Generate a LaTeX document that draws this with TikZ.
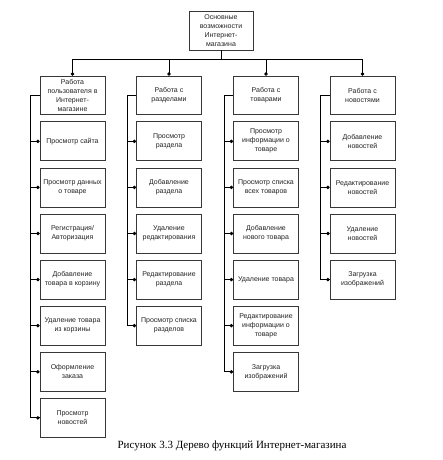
\documentclass[tikz,border=0pt]{standalone}
\usepackage{fontspec}
\setmainfont{Liberation Serif}
\newfontfamily\boxfont{Liberation Sans}
\usepackage{tikz}
\usetikzlibrary{arrows.meta, positioning}
\definecolor{boxline}{RGB}{55, 55, 55}
\definecolor{boxtext}{RGB}{35, 35, 35}

\begin{document}
\begin{tikzpicture}[
    x=1pt, y=-1pt,
    node distance=6.3pt,
    rootBox/.style={draw=boxline, line width=0.8pt, minimum width=64pt, minimum height=39pt, inner sep=1pt, align=center, text=boxtext, font=\boxfont\fontsize{7}{9}\selectfont},
    headBox/.style={rootBox, minimum width=65pt, minimum height=38pt},
    funcBox/.style={rootBox, minimum width=65pt, minimum height=39pt},
    link/.style={draw=black, line width=0.9pt},
    dotLink/.style={link, -{Circle[length=3.4pt]}}
]
\useasboundingbox (0,0) rectangle (442,460);

% Root
\node[rootBox] (root) at (221,30.5) {Основные\\возможности\\Интернет-\\магазина};
\coordinate (bus) at (221,59);

% Column heads
\node[headBox] (userHead) at (72.5,95) {Работа\\пользователя в\\Интернет-\\магазине};
\node[headBox] (secHead) at (169,95) {Работа с\\разделами};
\node[headBox] (goodHead) at (266,95) {Работа с\\товарами};
\node[headBox] (newsHead) at (362.5,95) {Работа с\\новостями};

\draw[link] (root) -- (bus);
\draw[dotLink] (bus) -| (userHead.north);
\draw[dotLink] (bus) -| (secHead.north);
\draw[dotLink] (bus) -| (goodHead.north);
\draw[dotLink] (bus) -| (newsHead.north);

% User functions
\node[funcBox, below=7pt of userHead] (user1) {Просмотр сайта};
\node[funcBox, below=of user1] (user2) {Просмотр данных\\о товаре};
\node[funcBox, below=of user2] (user3) {Регистрация/\\Авторизация};
\node[funcBox, below=of user3] (user4) {Добавление\\товара в корзину};
\node[funcBox, below=of user4] (user5) {Удаление товара\\из корзины};
\node[funcBox, below=of user5] (user6) {Оформление\\заказа};
\node[funcBox, below=of user6] (user7) {Просмотр\\новостей};

\draw[link] (userHead.west) -- ++(-9,0) |- (user7.west);
\draw[dotLink] ([xshift=-9pt]user1.west) -- (user1.west);
\draw[dotLink] ([xshift=-9pt]user2.west) -- (user2.west);
\draw[dotLink] ([xshift=-9pt]user3.west) -- (user3.west);
\draw[dotLink] ([xshift=-9pt]user4.west) -- (user4.west);
\draw[dotLink] ([xshift=-9pt]user5.west) -- (user5.west);
\draw[dotLink] ([xshift=-9pt]user6.west) -- (user6.west);
\draw[dotLink] ([xshift=-9pt]user7.west) -- (user7.west);

% Section functions
\node[funcBox, below=7pt of secHead] (sec1) {Просмотр\\раздела};
\node[funcBox, below=of sec1] (sec2) {Добавление\\раздела};
\node[funcBox, below=of sec2] (sec3) {Удаление\\редактирования};
\node[funcBox, below=of sec3] (sec4) {Редактирование\\раздела};
\node[funcBox, below=of sec4] (sec5) {Просмотр списка\\разделов};

\draw[link] (secHead.west) -- ++(-9,0) |- (sec5.west);
\draw[dotLink] ([xshift=-9pt]sec1.west) -- (sec1.west);
\draw[dotLink] ([xshift=-9pt]sec2.west) -- (sec2.west);
\draw[dotLink] ([xshift=-9pt]sec3.west) -- (sec3.west);
\draw[dotLink] ([xshift=-9pt]sec4.west) -- (sec4.west);
\draw[dotLink] ([xshift=-9pt]sec5.west) -- (sec5.west);

% Goods functions
\node[funcBox, below=7pt of goodHead] (good1) {Просмотр\\информации о\\товаре};
\node[funcBox, below=of good1] (good2) {Просмотр списка\\всех товаров};
\node[funcBox, below=of good2] (good3) {Добавление\\нового товара};
\node[funcBox, below=of good3] (good4) {Удаление товара};
\node[funcBox, below=of good4] (good5) {Редактирование\\информации о\\товаре};
\node[funcBox, below=of good5] (good6) {Загрузка\\изображений};

\draw[link] (goodHead.west) -- ++(-9,0) |- (good6.west);
\draw[dotLink] ([xshift=-9pt]good1.west) -- (good1.west);
\draw[dotLink] ([xshift=-9pt]good2.west) -- (good2.west);
\draw[dotLink] ([xshift=-9pt]good3.west) -- (good3.west);
\draw[dotLink] ([xshift=-9pt]good4.west) -- (good4.west);
\draw[dotLink] ([xshift=-9pt]good5.west) -- (good5.west);
\draw[dotLink] ([xshift=-9pt]good6.west) -- (good6.west);

% News functions
\node[funcBox, below=7pt of newsHead] (news1) {Добавление\\новостей};
\node[funcBox, below=of news1] (news2) {Редактирование\\новостей};
\node[funcBox, below=of news2] (news3) {Удаление\\новостей};
\node[funcBox, below=of news3] (news4) {Загрузка\\изображений};

\draw[link] (newsHead.west) -- ++(-9,0) |- (news4.west);
\draw[dotLink] ([xshift=-9pt]news1.west) -- (news1.west);
\draw[dotLink] ([xshift=-9pt]news2.west) -- (news2.west);
\draw[dotLink] ([xshift=-9pt]news3.west) -- (news3.west);
\draw[dotLink] ([xshift=-9pt]news4.west) -- (news4.west);

% Caption
\node[font=\fontsize{11}{13}\selectfont] (caption) at (232,446) {Рисунок 3.3 Дерево функций Интернет-магазина};

\end{tikzpicture}
\end{document}
